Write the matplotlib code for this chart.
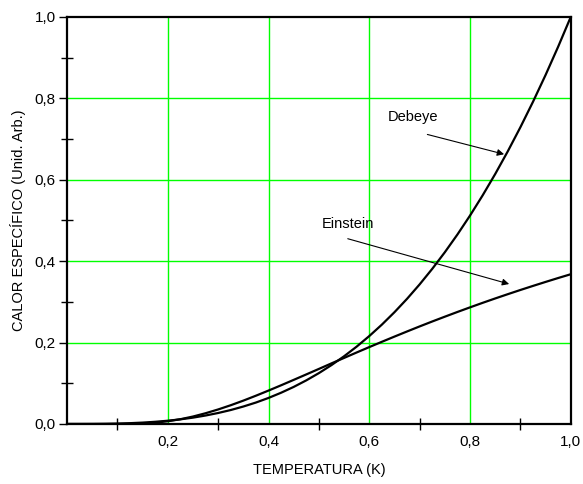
import matplotlib
matplotlib.use("Agg")
import matplotlib.pyplot as plt
from matplotlib.ticker import FixedLocator

plt.rcParams['font.family'] = ['Liberation Sans', 'DejaVu Sans']

# temperatures (K) and curves
temp = [0.0, 0.025, 0.05, 0.075, 0.1, 0.125, 0.15, 0.175, 0.2, 0.225,
        0.25, 0.275, 0.3, 0.325, 0.35, 0.375, 0.4, 0.425, 0.45, 0.475,
        0.5, 0.525, 0.55, 0.575, 0.6, 0.625, 0.65, 0.675, 0.7, 0.725,
        0.75, 0.775, 0.8, 0.825, 0.85, 0.875, 0.9, 0.925, 0.95, 0.975, 1.0]
debye = [0.0, 0.0, 0.0001, 0.0004, 0.001, 0.002, 0.0034, 0.0054, 0.008, 0.0114,
         0.0156, 0.0208, 0.027, 0.0343, 0.0429, 0.0527, 0.064, 0.0768, 0.0911, 0.1072,
         0.125, 0.1447, 0.1664, 0.1901, 0.216, 0.2441, 0.2746, 0.3075, 0.343, 0.3811,
         0.4219, 0.4655, 0.512, 0.5615, 0.6141, 0.6699, 0.729, 0.7915, 0.8574, 0.9269, 1.0]
einstein = [0.0, 0.0, 0.0, 0.0, 0.00005, 0.0003, 0.0013, 0.0033, 0.0067, 0.0117,
            0.0183, 0.0264, 0.0357, 0.0461, 0.0574, 0.0695, 0.0821, 0.0951, 0.1084, 0.1218,
            0.1353, 0.1489, 0.1623, 0.1757, 0.1889, 0.2019, 0.2147, 0.2273, 0.2397, 0.2518,
            0.2636, 0.2752, 0.2865, 0.2976, 0.3084, 0.3189, 0.3292, 0.3392, 0.3490, 0.3586, 0.3679]

xticks = [0.2, 0.4, 0.6, 0.8, 1.0]
yticks = [0.0, 0.2, 0.4, 0.6, 0.8, 1.0]
minor = [0.1, 0.3, 0.5, 0.7, 0.9]

fig = plt.figure(figsize=(5.83, 4.84), dpi=100)
ax = fig.add_axes([0.115, 0.124, 0.864, 0.841])

# green grid
for g in [0.2, 0.4, 0.6, 0.8]:
    ax.axvline(g, color="#00ff00", lw=1.0, zorder=1)
    ax.axhline(g, color="#00ff00", lw=1.0, zorder=1)

ax.plot(temp, debye, color="black", lw=1.6, zorder=3)
ax.plot(temp, einstein, color="black", lw=1.6, zorder=3)

ax.set_xlim(0, 1)
ax.set_ylim(0, 1)
ax.xaxis.set_major_locator(FixedLocator(xticks))
ax.yaxis.set_major_locator(FixedLocator(yticks))
ax.set_xticklabels([f"{v:.1f}".replace(".", ",") for v in xticks])
ax.set_yticklabels([f"{v:.1f}".replace(".", ",") for v in yticks])
ax.xaxis.set_minor_locator(FixedLocator(minor))
ax.yaxis.set_minor_locator(FixedLocator(minor))
ax.tick_params(axis="x", which="major", direction="in", length=0, pad=8, labelsize=11)
ax.tick_params(axis="y", which="major", direction="out", length=6, width=1, pad=2, labelsize=11)
ax.tick_params(which="minor", direction="inout", length=8, width=1)

for s in ax.spines.values():
    s.set_linewidth(1.6)
    s.set_zorder(4)

ax.set_xlabel("TEMPERATURA (K)", fontsize=10.5, labelpad=10)
ax.set_ylabel("CALOR ESPECÍFICO (Unid. Arb.)", fontsize=10.5, labelpad=6)

# annotations
ax.annotate("", xy=(0.873, 0.661), xytext=(0.71, 0.713),
            arrowprops=dict(arrowstyle="-|>", color="black", lw=0.8, mutation_scale=10))
ax.text(0.637, 0.754, "Debeye", fontsize=10.5, va="center")
ax.annotate("", xy=(0.883, 0.342), xytext=(0.552, 0.457),
            arrowprops=dict(arrowstyle="-|>", color="black", lw=0.8, mutation_scale=10))
ax.text(0.506, 0.491, "Einstein", fontsize=10.5, va="center")

fig.savefig("out.png", dpi=100)
